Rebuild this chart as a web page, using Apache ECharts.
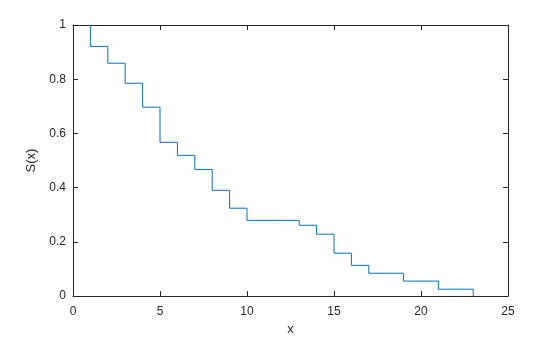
<!DOCTYPE html>
<html><head><meta charset="utf-8">
<script src="https://cdn.jsdelivr.net/npm/echarts@6/dist/echarts.min.js"></script>
<style>html,body{margin:0;padding:0;background:#fff}#c{width:560px;height:337px}</style>
</head><body><div id="c"></div>
<script>
var times = [1, 1, 2, 3, 4, 5, 6, 7, 8, 9, 10, 13, 14, 15, 16, 17, 19, 21, 23];
var survival = [1, 0.921, 0.859, 0.785, 0.697, 0.567, 0.519, 0.467, 0.390, 0.324, 0.279, 0.261, 0.228, 0.158, 0.113, 0.084, 0.055, 0.025, 0];
var xTicks = [0, 5, 10, 15, 20, 25];
var yTicks = [0, 0.2, 0.4, 0.6, 0.8, 1];

var data = times.map(function (t, i) { return [t, survival[i]]; });
var font = 'Liberation Sans, Arial, Helvetica, sans-serif';
var axLine = {show: true, lineStyle: {color: '#262626', width: 1}};
var chart = echarts.init(document.getElementById('c'), null, {renderer: 'canvas'});
function xa(pos, labels) {
  return {type: 'value', position: pos, min: xTicks[0], max: xTicks[xTicks.length - 1], interval: xTicks[1] - xTicks[0],
    axisLine: Object.assign({onZero: false}, axLine),
    axisTick: {show: true, inside: true, length: 5, lineStyle: {color: '#262626'}},
    axisLabel: {show: labels, color: '#262626', fontSize: 12, fontFamily: font, margin: 10},
    splitLine: {show: false},
    name: labels ? 'x' : '', nameLocation: 'middle', nameGap: 27,
    nameTextStyle: {color: '#262626', fontSize: 13, fontFamily: font}};
}
function ya(pos, labels) {
  return {type: 'value', position: pos, min: yTicks[0], max: yTicks[yTicks.length - 1], interval: yTicks[1] - yTicks[0],
    axisLine: Object.assign({onZero: false}, axLine),
    axisTick: {show: true, inside: true, length: 5, lineStyle: {color: '#262626'}},
    axisLabel: {show: labels, color: '#262626', fontSize: 12, fontFamily: font, margin: 7},
    splitLine: {show: false},
    name: labels ? 'S(x)' : '', nameLocation: 'middle', nameGap: 31,
    nameTextStyle: {color: '#262626', fontSize: 13, fontFamily: font}};
}
chart.setOption({
  animation: false,
  backgroundColor: '#fff',
  grid: {left: 73, right: 52, top: 25, bottom: 41, containLabel: false, outerBoundsMode: 'none'},
  xAxis: [xa('bottom', true), xa('top', false)],
  yAxis: [ya('left', true), ya('right', false)],
  series: [{
    type: 'line', step: 'end', data: data, showSymbol: false, symbol: 'none',
    xAxisIndex: 0, yAxisIndex: 0,
    lineStyle: {color: '#0072BD', width: 1}, z: 1
  }]
});
</script></body></html>
